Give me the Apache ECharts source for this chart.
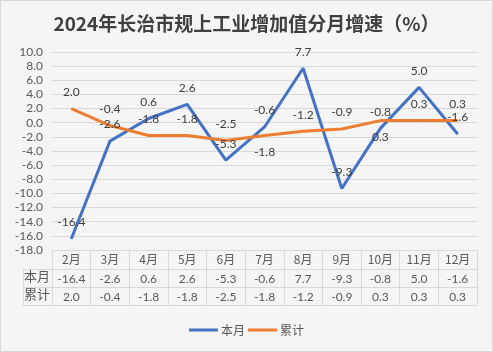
<!DOCTYPE html>
<html>
<head>
<meta charset="utf-8">
<script src="https://cdn.jsdelivr.net/npm/echarts@6/dist/echarts.min.js"></script>
<style>
  html, body { margin: 0; padding: 0; background: #f5f5f5; }
  #main { width: 493px; height: 352px; }
</style>
</head>
<body>
<div id="main"></div>
<script>
var months = ['2月', '3月', '4月', '5月', '6月', '7月', '8月', '9月', '10月', '11月', '12月'];
var monthName = '本月';
var cumName = '累计';
var monthly = [-16.4, -2.6, 0.6, 2.6, -5.3, -0.6, 7.7, -9.3, -0.8, 5.0, -1.6];
var cumulative = [2.0, -0.4, -1.8, -1.8, -2.5, -1.8, -1.2, -0.9, 0.3, 0.3, 0.3];
// 累计标签放在线下方的月份（避免与本月标签重叠）
var cumLabelBelow = ['7月', '10月'];

var numFont = "Lato, 'Noto Sans CJK SC', sans-serif";
var cjkFont = "'Noto Sans CJK SC', sans-serif";
var lineColor = '#d9d9d9';
var textColor = '#595959';

function fmt(v) { return v.toFixed(1); }

var myChart = echarts.init(document.getElementById('main'));

var cumData = cumulative.map(function (v, i) {
    if (cumLabelBelow.indexOf(months[i]) >= 0) {
        return { value: v, label: { position: 'bottom' } };
    }
    return v;
});

function tableAxis(offset, labels, showLabel) {
    return {
        type: 'category',
        position: 'bottom',
        offset: offset,
        data: labels,
        axisLine: { show: true, onZero: false, lineStyle: { color: lineColor, width: 1 } },
        axisTick: { show: false },
        axisLabel: {
            show: showLabel,
            interval: 0,
            margin: 4,
            fontSize: 12,
            color: textColor,
            fontFamily: numFont
        },
        splitLine: { show: false }
    };
}

var option = {
    backgroundColor: '#f5f5f5',
    animation: false,
    title: {
        text: '2024年长治市规上工业增加值分月增速（%）',
        left: 'center',
        top: 9,
        textStyle: {
            fontSize: 19,
            fontWeight: 'bold',
            color: '#404040',
            fontFamily: cjkFont
        }
    },
    legend: {
        bottom: 11,
        left: 'center',
        icon: 'rect',
        itemWidth: 29,
        itemHeight: 3,
        itemGap: 3,
        data: [monthName, cumName],
        textStyle: { fontSize: 12, color: textColor, fontFamily: cjkFont, padding: [0, 0, 0, -2] }
    },
    grid: { left: 52, right: 16, top: 52, bottom: 102 },
    xAxis: [
        {
            type: 'category',
            position: 'bottom',
            data: months,
            axisLine: { show: true, onZero: false, lineStyle: { color: lineColor, width: 1 } },
            axisTick: { show: true, interval: 0, length: 55, lineStyle: { color: lineColor } },
            axisLabel: { interval: 0, margin: 3, fontSize: 12, color: textColor, fontFamily: cjkFont },
            splitLine: { show: false }
        },
        tableAxis(19, monthly.map(fmt), true),
        tableAxis(37, cumulative.map(fmt), true),
        tableAxis(55, months.map(function () { return ''; }), false)
    ],
    yAxis: {
        type: 'value',
        min: -18,
        max: 10,
        interval: 2,
        axisLine: { show: false },
        axisTick: { show: false },
        axisLabel: {
            margin: 9,
            fontSize: 12,
            color: textColor,
            fontFamily: numFont,
            formatter: function (v) { return v.toFixed(1); }
        },
        splitLine: { lineStyle: { color: lineColor, width: 1 } }
    },
    graphic: [
        {
            type: 'rect',
            shape: { x: 0.5, y: 0.5, width: 492, height: 351 },
            style: { fill: 'none', stroke: lineColor, lineWidth: 1 },
            silent: true
        },
        {
            type: 'rect',
            shape: { x: 23.5, y: 269.5, width: 29, height: 36 },
            style: { fill: 'none', stroke: lineColor, lineWidth: 1 },
            silent: true
        },
        {
            type: 'line',
            shape: { x1: 23.5, y1: 287.5, x2: 52.5, y2: 287.5 },
            style: { stroke: lineColor, lineWidth: 1 },
            silent: true
        },
        {
            type: 'text',
            left: 24, top: 270,
            style: { text: monthName, fontSize: 13, fill: textColor, fontFamily: cjkFont }
        },
        {
            type: 'text',
            left: 24, top: 288,
            style: { text: cumName, fontSize: 13, fill: textColor, fontFamily: cjkFont }
        }
    ],
    series: [
        {
            name: monthName,
            type: 'line',
            xAxisIndex: 0,
            data: monthly,
            symbol: 'circle',
            symbolSize: 1,
            lineStyle: { width: 3, color: '#4472c4' },
            itemStyle: { color: '#4472c4' },
            label: {
                show: true,
                position: 'top',
                distance: 10,
                fontSize: 12,
                color: '#404040',
                fontFamily: numFont,
                formatter: function (p) { return fmt(p.value); }
            }
        },
        {
            name: cumName,
            type: 'line',
            xAxisIndex: 0,
            data: cumData,
            symbol: 'circle',
            symbolSize: 1,
            lineStyle: { width: 3, color: '#ed7d31' },
            itemStyle: { color: '#ed7d31' },
            label: {
                show: true,
                position: 'top',
                distance: 10,
                fontSize: 12,
                color: '#404040',
                fontFamily: numFont,
                formatter: function (p) { return fmt(p.value); }
            }
        }
    ]
};

myChart.setOption(option);
window.addEventListener('resize', function () {
    myChart.resize();
});
</script>
</body>
</html>
